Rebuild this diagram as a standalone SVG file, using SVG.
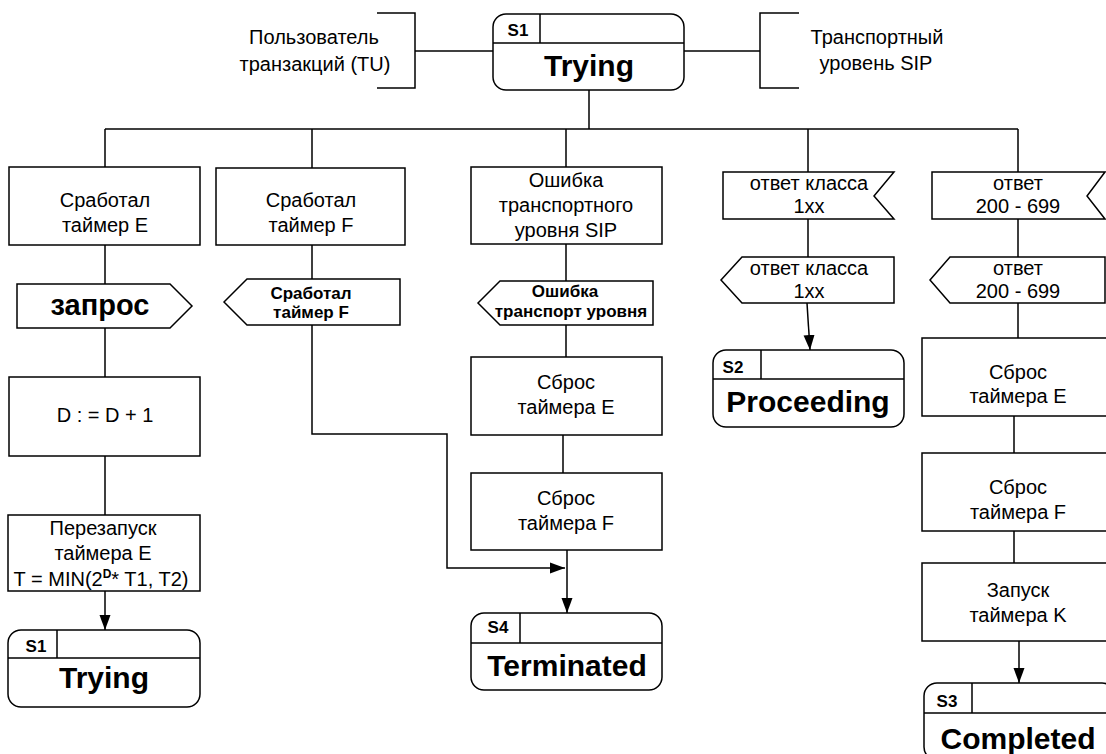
<svg xmlns="http://www.w3.org/2000/svg" width="1106" height="754" viewBox="0 0 1106 754">
<style>
.s{fill:#fff;stroke:#000;stroke-width:1.5}
.ln{fill:none;stroke:#000;stroke-width:1.5}
.t{font-family:"Liberation Sans",Arial,sans-serif;font-size:20px;fill:#000;text-anchor:middle}
.b{font-family:"Liberation Sans",Arial,sans-serif;font-size:17px;font-weight:bold;fill:#000;text-anchor:middle}
.sid{font-family:"Liberation Sans",Arial,sans-serif;font-size:17px;font-weight:bold;fill:#000;text-anchor:middle}
.st{font-family:"Liberation Sans",Arial,sans-serif;font-size:30px;font-weight:bold;fill:#000;text-anchor:middle}
</style>
<defs>
<marker id="ah" markerWidth="15" markerHeight="12" refX="15" refY="6" orient="auto" markerUnits="userSpaceOnUse">
<path d="M0,0.5 L15,6 L0,11.5 Z" fill="#000"/>
</marker>
</defs>
<rect width="1106" height="754" fill="#fff"/>

<g id="connectors">
<path class="ln" d="M377,13 H415 V88 H377"/>
<path class="ln" d="M799,13 H760 V88 H799"/>
<path class="ln" d="M415,51 H493"/>
<path class="ln" d="M684,51 H760"/>
<path class="ln" d="M589,90 V129"/>
<path class="ln" d="M105,129 H1018"/>
<path class="ln" d="M105,129 V167 M105,245 V284 M105,328 V377 M105,456 V515"/>
<path class="ln" d="M105,591 V630" marker-end="url(#ah)"/>
<path class="ln" d="M312,129 V168 M312,245 V279"/>
<path class="ln" d="M312,325 V434 H447 V568 H565" marker-end="url(#ah)"/>
<path class="ln" d="M566,129 V167 M566,244 V281 M566,325 V357 M563,435 V473"/>
<path class="ln" d="M567,550 V613" marker-end="url(#ah)"/>
<path class="ln" d="M808,129 V172 M808,219 V257"/>
<path class="ln" d="M807,303 L810,350" marker-end="url(#ah)"/>
<path class="ln" d="M1018,129 V172 M1018,219 V257 M1018,303 V338 M1014,416 V453 M1014,531 V563"/>
<path class="ln" d="M1019,641 V683" marker-end="url(#ah)"/>
</g>

<g id="tu-label">
<text class="t" x="314" y="44">Пользователь</text>
<text class="t" x="315" y="71">транзакций (TU)</text>
</g>
<g id="sip-label">
<text class="t" x="877" y="44">Транспортный</text>
<text class="t" x="876" y="70">уровень SIP</text>
</g>

<g id="state-s1-top">
<rect class="s" x="493" y="14" width="191" height="76" rx="13" ry="13"/>
<path class="ln" d="M493,43 H684 M540,14 V43"/>
<text class="sid" x="518" y="36">S1</text>
<text class="st" x="589" y="76">Trying</text>
</g>

<g id="c1-box1">
<rect class="s" x="9" y="167" width="191" height="78"/>
<text class="t" x="105" y="207">Сработал</text>
<text class="t" x="105" y="232">таймер E</text>
</g>
<g id="c1-out">
<path class="s" d="M17,284 H170 L192,306 L170,328 H17 Z"/>
<text class="st" x="100" y="315" style="font-size:29px">запрос</text>
</g>
<g id="c1-task">
<rect class="s" x="9" y="377" width="191" height="79"/>
<text class="t" x="105" y="422">D : = D + 1</text>
</g>
<g id="c1-restart">
<rect class="s" x="8" y="515" width="192" height="76"/>
<text class="t" x="103" y="535">Перезапуск</text>
<text class="t" x="103" y="560">таймера E</text>
<text class="t" x="101" y="586">T = MIN(2<tspan dy="-8" style="font-size:12px;font-weight:bold">D</tspan><tspan dy="8">* T1, T2)</tspan></text>
</g>
<g id="state-s1-bottom">
<rect class="s" x="8" y="630" width="192" height="77" rx="13" ry="13"/>
<path class="ln" d="M8,658 H200 M57,630 V658"/>
<text class="sid" x="36" y="652">S1</text>
<text class="st" x="104" y="688">Trying</text>
</g>

<g id="c2-box">
<rect class="s" x="216" y="168" width="189" height="77"/>
<text class="t" x="311" y="207">Сработал</text>
<text class="t" x="311" y="232">таймер F</text>
</g>
<g id="c2-in">
<path class="s" d="M224,302 L247,279 H400 V325 H247 Z"/>
<text class="b" x="311" y="299">Сработал</text>
<text class="b" x="311" y="318">таймер F</text>
</g>

<g id="c3-box">
<rect class="s" x="471" y="167" width="191" height="77"/>
<text class="t" x="566" y="187">Ошибка</text>
<text class="t" x="566" y="212">транспортного</text>
<text class="t" x="566" y="237">уровня SIP</text>
</g>
<g id="c3-in">
<path class="s" d="M478,303 L500,281 H653 V325 H500 Z"/>
<text class="b" x="565" y="297">Ошибка</text>
<text class="b" x="571" y="317">транспорт уровня</text>
</g>
<g id="c3-resetE">
<rect class="s" x="471" y="357" width="191" height="78"/>
<text class="t" x="566" y="389">Сброс</text>
<text class="t" x="566" y="414">таймера E</text>
</g>
<g id="c3-resetF">
<rect class="s" x="471" y="473" width="191" height="77"/>
<text class="t" x="566" y="505">Сброс</text>
<text class="t" x="566" y="530">таймера F</text>
</g>
<g id="state-s4">
<rect class="s" x="471" y="613" width="191" height="77" rx="13" ry="13"/>
<path class="ln" d="M471,643 H662 M520,613 V643"/>
<text class="sid" x="498" y="633">S4</text>
<text class="st" x="567" y="676">Terminated</text>
</g>

<g id="c4-in">
<path class="s" d="M723,172 H894 L874,196 L894,219 H723 Z"/>
<text class="t" x="809" y="190">ответ класса</text>
<text class="t" x="809" y="213">1xx</text>
</g>
<g id="c4-out">
<path class="s" d="M721,280 L742,257 H894 V303 H742 Z"/>
<text class="t" x="809" y="275">ответ класса</text>
<text class="t" x="809" y="298">1xx</text>
</g>
<g id="state-s2">
<rect class="s" x="713" y="350" width="191" height="77" rx="13" ry="13"/>
<path class="ln" d="M713,379 H904 M761,350 V379"/>
<text class="sid" x="733" y="373">S2</text>
<text class="st" x="808" y="412">Proceeding</text>
</g>

<g id="c5-in">
<path class="s" d="M932,172 H1105 L1087,196 L1105,219 H932 Z"/>
<text class="t" x="1018" y="190">ответ</text>
<text class="t" x="1018" y="213">200 - 699</text>
</g>
<g id="c5-out">
<path class="s" d="M930,280 L950,257 H1105 V303 H950 Z"/>
<text class="t" x="1018" y="275">ответ</text>
<text class="t" x="1018" y="298">200 - 699</text>
</g>
<g id="c5-resetE">
<rect class="s" x="922" y="338" width="200" height="78"/>
<text class="t" x="1018" y="379">Сброс</text>
<text class="t" x="1018" y="403">таймера E</text>
</g>
<g id="c5-resetF">
<rect class="s" x="922" y="453" width="200" height="78"/>
<text class="t" x="1018" y="494">Сброс</text>
<text class="t" x="1018" y="519">таймера F</text>
</g>
<g id="c5-startK">
<rect class="s" x="922" y="563" width="200" height="78"/>
<text class="t" x="1018" y="597">Запуск</text>
<text class="t" x="1018" y="622">таймера K</text>
</g>
<g id="state-s3">
<rect class="s" x="924" y="683" width="191" height="77" rx="13" ry="13"/>
<path class="ln" d="M924,713 H1115 M972,683 V713"/>
<text class="sid" x="947" y="707">S3</text>
<text class="st" x="1018" y="749">Completed</text>
</g>
</svg>
